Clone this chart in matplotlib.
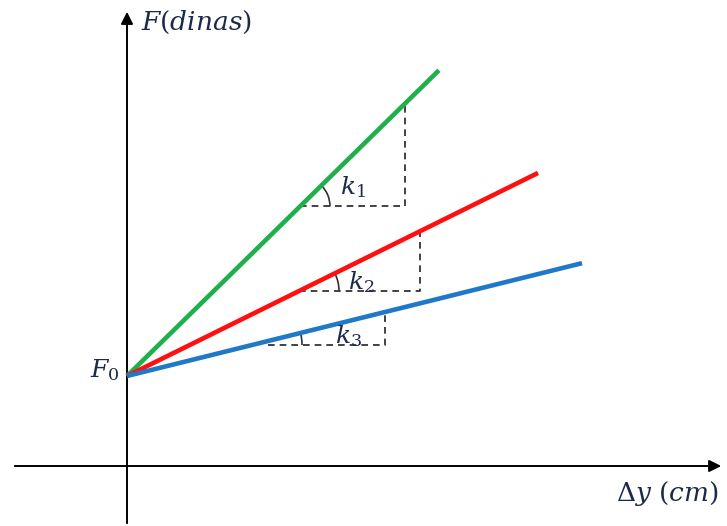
import numpy as np
import matplotlib.pyplot as plt
from matplotlib.patches import Arc

plt.rcParams['mathtext.fontset'] = 'dejavuserif'

# force at zero elongation and the three spring lines
f0 = 90
slopes = [0.98, 0.494, 0.248]
x_end = [312, 411, 455]
colors = ['#20b04b', '#ff1010', '#1f78c8']
labels = [r'$k_1$', r'$k_2$', r'$k_3$']

# slope triangles: left vertex x, start of the dashed base, right side x
tri_left = [173, 172, 125]
base_start = [173, 172, 141]
tri_right = [278, 293, 258]
arc_r = [30, 40, 50]
label_pos = [(226, 279), (234, 184), (222, 130)]

text_color = '#1c2a4a'

fig = plt.figure(figsize=(7.27, 5.26), dpi=100)
ax = fig.add_axes([0, 0, 1, 1])
ax.set_xlim(-127, 600)
ax.set_ylim(-60, 466)
ax.axis('off')

# axes with arrows
ax.annotate('', xy=(597, 0), xytext=(-115, 0),
            arrowprops=dict(arrowstyle='-|>', color='black', lw=1.4, mutation_scale=18))
ax.annotate('', xy=(0, 457), xytext=(0, -60),
            arrowprops=dict(arrowstyle='-|>', color='black', lw=1.4, mutation_scale=18))

for m, xe, c, lab, xl, xb, xr, r, pos in zip(slopes, x_end, colors, labels, tri_left,
                                             base_start, tri_right, arc_r, label_pos):
    xs = np.array([0, xe])
    ax.plot(xs, f0 + m * xs, color=c, lw=3.3, solid_capstyle='butt', zorder=3)
    y0 = f0 + m * xl
    y1 = f0 + m * xr
    ax.plot([xb, xr, xr], [y0, y0, y1], color='#222222', lw=1.2,
            linestyle=(0, (4, 3)), zorder=2)
    ang = np.degrees(np.arctan(m))
    ax.add_patch(Arc((xl, y0), 2 * r, 2 * r, theta1=0, theta2=ang,
                     color='#333333', lw=1.2, zorder=2))
    ax.text(pos[0], pos[1], lab, fontsize=18, color=text_color,
            ha='center', va='center', zorder=4)

ax.text(-22, 96, r'$F_0$', fontsize=18, color=text_color, ha='center', va='center')
ax.text(14, 444, r'$F(dinas)$', fontsize=19, color=text_color, ha='left', va='center')
ax.text(540, -27, r'$\Delta y\ (cm)$', fontsize=19, color=text_color, ha='center', va='center')

fig.savefig('out.png', dpi=100)
